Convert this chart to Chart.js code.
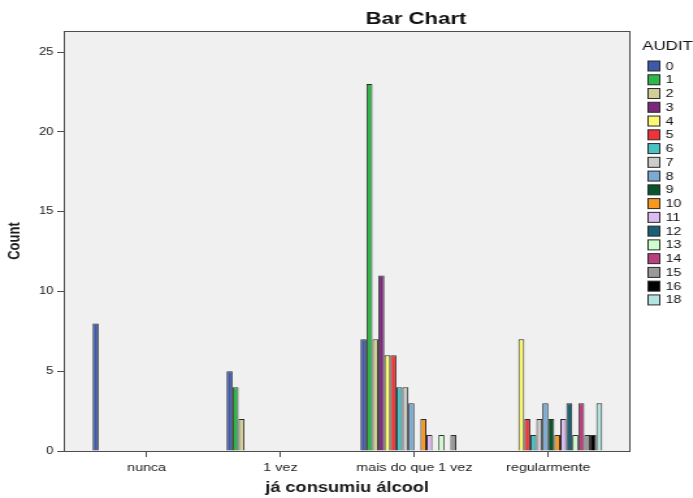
<!DOCTYPE html>
<html lang="pt">
<head>
<meta charset="utf-8">
<title>Bar Chart</title>
<script src="https://cdn.jsdelivr.net/npm/chart.js@4.4.1/dist/chart.umd.min.js"></script>
<style>
  body { margin: 0; background: #fff; }
  #moldura { width: 693px; height: 498px; overflow: hidden; }
  /* o original está esticado na horizontal, então a tela também */
  #grafico { transform: scaleX(1.3); transform-origin: 0 0; }
</style>
</head>
<body>
<div id="moldura"><canvas id="grafico" width="533" height="498"></canvas></div>
<script>
// Categorias do eixo X
const categorias = ['nunca', '1 vez', 'mais do que 1 vez', 'regularmente'];

// Níveis de AUDIT (uma série por nível)
const niveisAudit = ['0', '1', '2', '3', '4', '5', '6', '7', '8', '9', '10', '11', '12', '13', '14', '15', '16', '18'];

// Contagens de cada categoria, na ordem de niveisAudit
const nunca        = [8, 0, 0, 0, 0, 0, 0, 0, 0, 0, 0, 0, 0, 0, 0, 0, 0, 0];
const umaVez       = [5, 4, 2, 0, 0, 0, 0, 0, 0, 0, 0, 0, 0, 0, 0, 0, 0, 0];
const maisDeUmaVez = [7, 23, 7, 11, 6, 6, 4, 4, 3, 0, 2, 1, 0, 1, 0, 1, 0, 0];
const regularmente = [0, 0, 0, 0, 7, 2, 1, 2, 3, 2, 1, 2, 3, 1, 3, 1, 1, 3];

// Marcas do eixo Y
const ticksY = [0, 5, 10, 15, 20, 25];

// Cores padrão do SPSS
const coresAudit = ['#3e58ac', '#2eb848', '#d3ce97', '#7c287d', '#fbf873', '#ef3338',
                    '#48c2c5', '#cccccc', '#7aaad5', '#0a562c', '#f8981d', '#ddbaf1',
                    '#1a5f76', '#ccffcc', '#bb3f7f', '#999999', '#000000', '#b3e4e2'];

Chart.defaults.font.family = "'Liberation Sans', Arial, sans-serif";
Chart.defaults.color = '#1a1a1a';

// --- Montar datasets ---
const datasets = niveisAudit.map((nivel, i) => ({
    label: nivel,
    data: [nunca[i], umaVez[i], maisDeUmaVez[i], regularmente[i]],
    backgroundColor: coresAudit[i],
    borderColor: '#2b2b2b',
    borderWidth: 1,
    categoryPercentage: 0.806,
    barPercentage: 1
}));

// Fundo cinza e moldura da área do gráfico
const fundoPlot = {
    id: 'fundoPlot',
    beforeDraw(chart) {
        const { ctx, chartArea: a } = chart;
        ctx.save();
        ctx.fillStyle = '#f0f0f0';
        ctx.fillRect(a.left, a.top, a.right - a.left, a.bottom - a.top);
        ctx.restore();
    },
    afterDatasetsDraw(chart) {
        const { ctx, chartArea: a } = chart;
        ctx.save();
        ctx.strokeStyle = '#4d4d4d';
        ctx.lineWidth = 1;
        ctx.strokeRect(a.left + 0.5, a.top + 0.5, a.right - a.left - 1, a.bottom - a.top);
        ctx.restore();
    }
};

// Título e legenda no estilo SPSS
const tituloLegenda = {
    id: 'tituloLegenda',
    afterDraw(chart) {
        const ctx = chart.ctx;
        ctx.save();
        ctx.fillStyle = '#111';
        ctx.textBaseline = 'alphabetic';
        ctx.textAlign = 'center';
        ctx.font = "bold 17px 'Liberation Sans', Arial, sans-serif";
        ctx.fillText('Bar Chart', 320, 24);

        ctx.textAlign = 'left';
        ctx.textBaseline = 'middle';
        ctx.font = "13px 'Liberation Sans', Arial, sans-serif";
        ctx.fillText('AUDIT', 494, 46);

        ctx.font = "11px 'Liberation Sans', Arial, sans-serif";
        chart.data.datasets.forEach((ds, i) => {
            const y = 66 + i * 13.76;
            ctx.fillStyle = ds.backgroundColor;
            ctx.fillRect(498.5, y - 5, 9, 10);
            ctx.strokeStyle = '#2b2b2b';
            ctx.lineWidth = 1;
            ctx.strokeRect(498.5, y - 5, 9, 10);
            ctx.fillStyle = '#111';
            ctx.fillText(ds.label, 512, y + 0.5);
        });
        ctx.restore();
    }
};

const ctx = document.getElementById('grafico').getContext('2d');
new Chart(ctx, {
    type: 'bar',
    data: { labels: categorias, datasets: datasets },
    options: {
        responsive: false,
        animation: false,
        devicePixelRatio: 1,
        layout: { padding: { top: 31, right: 48, left: 0, bottom: 0 } },
        plugins: {
            legend: { display: false },
            title: { display: false },
            tooltip: { enabled: false }
        },
        scales: {
            x: {
                border: { display: false },
                grid: { drawOnChartArea: false, offset: false, tickLength: 6, color: '#4d4d4d' },
                ticks: { font: { size: 11 }, padding: 4, maxRotation: 0 },
                title: {
                    display: true, text: 'já consumiu álcool',
                    font: { size: 14, weight: 'bold' }, padding: { top: 0, bottom: 1 }
                },
                // categorias com margem própria, como no SPSS
                afterBuildTicks: (eixo) => { eixo._startValue = -0.619; eixo._valueRange = 4.233; },
                afterFit: (eixo) => { eixo.height = 47; }
            },
            y: {
                min: 0,
                max: 26.33,
                border: { display: false },
                grid: { drawOnChartArea: false, tickLength: 5, color: '#4d4d4d' },
                ticks: { font: { size: 10 }, padding: 3 },
                afterBuildTicks: (eixo) => { eixo.ticks = ticksY.map(v => ({ value: v })); },
                title: {
                    display: true, text: 'Count',
                    font: { size: 13, weight: 'bold' }, padding: { top: 4, bottom: 0 }
                },
                afterFit: (eixo) => { eixo.width = 49; }
            }
        }
    },
    plugins: [fundoPlot, tituloLegenda]
});
</script>
</body>
</html>
